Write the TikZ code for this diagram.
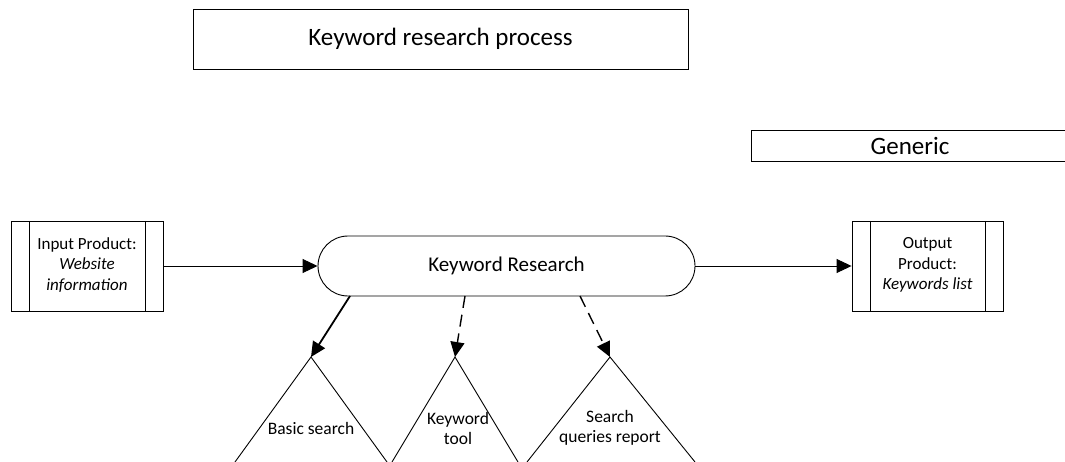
\documentclass[tikz,border=0pt]{standalone}
\usepackage{fontspec}
\setmainfont{Carlito}
\usetikzlibrary{arrows.meta,shapes.misc}
\begin{document}
\begin{tikzpicture}[x=1pt,y=-1pt,
  line width=0.9pt,
  box/.style={draw,rectangle,inner sep=0pt},
  arr/.style={-{Triangle[length=15pt,width=14pt]}},
  lbl/.style={font=\fontsize{17.5}{20}\selectfont,align=center},
  prod/.style={font=\fontsize{17}{20.5}\selectfont,align=center}]
\useasboundingbox (0,0) rectangle (1065,462);
% title
\node[box,minimum width=495pt,minimum height=60pt,font=\fontsize{25}{30}\selectfont] (title) at (440.5,39) {Keyword research process};
% generic
\node[box,minimum width=318pt,minimum height=31pt,font=\fontsize{25}{30}\selectfont] (gen) at (910,146) {Generic};
% input product
\node[box,minimum width=152pt,minimum height=90pt] (in) at (87,266) {};
\draw (29,221) -- (29,311) (145,221) -- (145,311);
\node[prod] (intext) at (87,265) {Input Product:\\\textit{Website}\\\textit{information}};
% output product
\node[box,minimum width=151pt,minimum height=90pt] (out) at (927.5,266) {};
\draw (870,221) -- (870,311) (985,221) -- (985,311);
\node[prod] (outtext) at (927.5,265) {Output\\Product:\\\textit{Keywords list}};
% keyword research
\node[draw,rounded rectangle,minimum width=377pt,minimum height=60pt,inner sep=0pt,font=\fontsize{21}{25}\selectfont] (kr) at (506.5,266) {Keyword Research};
\draw[arr] (in.east) -- (kr.west);
\draw[arr] (kr.east) -- (out.west);
% triangles
\coordinate (t1) at (311,357);
\coordinate (t2) at (455,357);
\coordinate (t3) at (610,357);
\draw (235,462) -- (t1) -- (387,462);
\draw (392,462) -- (t2) -- (518,462);
\draw (527,462) -- (t3) -- (695,462);
\node[lbl] (l1) at (311,428) {Basic search};
\node[lbl] (l2) at (458,428) {Keyword\\tool};
\node[lbl] (l3) at (610,428) {Search\\queries report};
% connectors
\coordinate (s1) at (350,296);
\coordinate (s2) at (465,296);
\coordinate (s3) at (580,296);
\draw[arr,line width=1.8pt] (s1) -- (t1);
\draw[arr,line width=1.4pt,dash pattern=on 12pt off 7pt] (s2) -- (t2);
\draw[arr,line width=1.4pt,dash pattern=on 12pt off 7pt] (s3) -- (t3);
\end{tikzpicture}
\end{document}
